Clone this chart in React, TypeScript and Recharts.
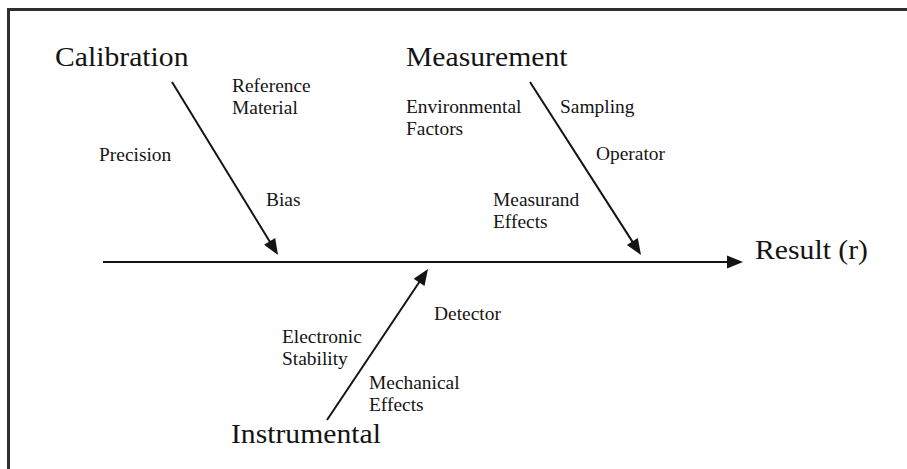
import { ScatterChart, XAxis, YAxis, ReferenceLine, Scatter } from "recharts";

// Diagram space is measured in the same units as the picture (907 x 469)
const WIDTH = 907;
const HEIGHT = 469;

const EFFECT = "Result (r)";
const CAUSES = ["Calibration", "Measurement", "Instrumental"];
const CALIBRATION_FACTORS = ["Reference|Material", "Precision", "Bias"];
const MEASUREMENT_FACTORS = ["Environmental|Factors", "Sampling", "Operator", "Measurand|Effects"];
const INSTRUMENTAL_FACTORS = ["Detector", "Electronic|Stability", "Mechanical|Effects"];

// layout (diagram units)
const SPINE = [{ x: 103, y: 262 }, { x: 743, y: 262 }];
const BONES = [
  [{ x: 172, y: 82 }, { x: 278, y: 255 }],
  [{ x: 530, y: 82 }, { x: 641, y: 255 }],
  [{ x: 327, y: 420 }, { x: 428, y: 269 }],
];
const EFFECT_POS = { x: 755, y: 259 };
const CAUSE_POS = [
  { x: 55, y: 66 },
  { x: 406, y: 66 },
  { x: 231, y: 443 },
];
const CALIBRATION_POS = [
  { x: 232, y: 92 },
  { x: 99, y: 161 },
  { x: 266, y: 206 },
];
const MEASUREMENT_POS = [
  { x: 406, y: 113 },
  { x: 560, y: 113 },
  { x: 596, y: 160 },
  { x: 493, y: 206 },
];
const INSTRUMENTAL_POS = [
  { x: 434, y: 320 },
  { x: 282, y: 343 },
  { x: 369, y: 389 },
];

const FONT = "'Liberation Serif', 'Times New Roman', serif";
const INK = "#141414";

type Label = { x: number; y: number; text: string; size: number; sx: number };

const labels: Label[] = [
  { ...EFFECT_POS, text: EFFECT, size: 27, sx: 1.1 },
  ...CAUSES.map((text, i) => ({ ...CAUSE_POS[i], text, size: 28, sx: 1.06 })),
  ...CALIBRATION_FACTORS.map((text, i) => ({ ...CALIBRATION_POS[i], text, size: 18, sx: 1.08 })),
  ...MEASUREMENT_FACTORS.map((text, i) => ({ ...MEASUREMENT_POS[i], text, size: 18, sx: 1.08 })),
  ...INSTRUMENTAL_FACTORS.map((text, i) => ({ ...INSTRUMENTAL_POS[i], text, size: 18, sx: 1.08 })),
];

function Arrow(props: any) {
  const { x1, y1, x2, y2 } = props;
  const ang = Math.atan2(y2 - y1, x2 - x1);
  const cos = Math.cos(ang);
  const sin = Math.sin(ang);
  const len = 16;
  const half = 6.5;
  const bx = x2 - len * cos;
  const by = y2 - len * sin;
  const pts = [
    [x2, y2],
    [bx - half * sin, by + half * cos],
    [bx + half * sin, by - half * cos],
  ]
    .map((p) => p.join(","))
    .join(" ");
  return (
    <g>
      <line x1={x1} y1={y1} x2={bx + cos} y2={by + sin} stroke={INK} strokeWidth={2} />
      <polygon points={pts} fill={INK} />
    </g>
  );
}

function TextMark(props: any) {
  const { cx, cy, payload } = props;
  const lines: string[] = payload.text.split("|");
  // the source lettering is a little wider than the local serif
  const tf = `translate(${cx},${cy}) scale(${payload.sx},1) translate(${-cx},${-cy})`;
  return (
    <text x={cx} y={cy} transform={tf} fontFamily={FONT} fontSize={payload.size} fill={INK}>
      {lines.map((l, i) => (
        <tspan key={i} x={cx} dy={i === 0 ? 0 : payload.size * 1.25}>
          {l}
        </tspan>
      ))}
    </text>
  );
}

export default function App() {
  return (
    <div style={{ position: "absolute", left: 0, top: 0, width: WIDTH, height: HEIGHT, background: "#fff" }}>
      <ScatterChart width={WIDTH} height={HEIGHT} margin={{ top: 0, right: 0, bottom: 0, left: 0 }}>
        <XAxis type="number" dataKey="x" domain={[0, WIDTH]} hide allowDataOverflow />
        <YAxis type="number" dataKey="y" domain={[0, HEIGHT]} reversed hide allowDataOverflow />
        {/* frame */}
        <ReferenceLine
          segment={[{ x: 7, y: 9.5 }, { x: WIDTH, y: 9.5 }]}
          stroke="#2e2e2e"
          strokeWidth={3}
          ifOverflow="visible"
        />
        <ReferenceLine
          segment={[{ x: 8.5, y: 8 }, { x: 8.5, y: HEIGHT }]}
          stroke="#2e2e2e"
          strokeWidth={3}
          ifOverflow="visible"
        />
        <ReferenceLine segment={SPINE} shape={Arrow} ifOverflow="visible" />
        {BONES.map((seg, i) => (
          <ReferenceLine key={i} segment={seg} shape={Arrow} ifOverflow="visible" />
        ))}
        <Scatter data={labels} shape={TextMark} isAnimationActive={false} />
      </ScatterChart>
    </div>
  );
}
